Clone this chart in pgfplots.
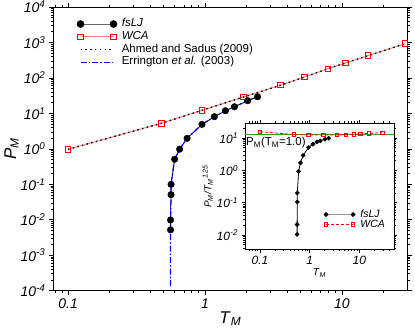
\documentclass[border=0pt]{standalone}
\usepackage{fontspec}
\setmainfont{Liberation Sans}
\usepackage{pgfplots}
\pgfplotsset{compat=1.18}

\begin{document}
\begin{tikzpicture}
\useasboundingbox (-53.3bp,-39.3bp) rectangle (361.7bp,290.7bp);
\begin{axis}[
  at={(0,0)}, anchor=south west,
  scale only axis, width=354bp, height=283.7bp,
  xmode=log, ymode=log,
  xmin=0.078, xmax=30, ymin=1e-4, ymax=1e4,
  xtick={0.1,1,10}, xticklabels={0.1,1,10},
  minor xtick={0.08,0.09,0.2,0.3,0.4,0.5,0.6,0.7,0.8,0.9,2,3,4,5,6,7,8,9,20},
  ytick={1e-4,1e-3,1e-2,1e-1,1,10,100,1000,10000},
  yticklabels={10\textsuperscript{-4},10\textsuperscript{-3},10\textsuperscript{-2},10\textsuperscript{-1},10\textsuperscript{0},10\textsuperscript{1},10\textsuperscript{2},10\textsuperscript{3},10\textsuperscript{4}},
  minor ytick={2e-4,3e-4,4e-4,5e-4,6e-4,7e-4,8e-4,9e-4,
    2e-3,3e-3,4e-3,5e-3,6e-3,7e-3,8e-3,9e-3,
    2e-2,3e-2,4e-2,5e-2,6e-2,7e-2,8e-2,9e-2,
    0.2,0.3,0.4,0.5,0.6,0.7,0.8,0.9,
    2,3,4,5,6,7,8,9,
    20,30,40,50,60,70,80,90,
    200,300,400,500,600,700,800,900,
    2000,3000,4000,5000,6000,7000,8000,9000},
  tick label style={font=\fontsize{14bp}{16bp}\selectfont\itshape},
  tick align=outside,
  major tick length=4.5bp, minor tick length=2.5bp,
  every tick/.style={black, line width=0.6bp},
  axis line style={line width=0.8bp},
  xlabel={\textit{T}\textsubscript{\textit{M}}},
  ylabel={\textit{P}\textsubscript{\textit{M}}},
  xlabel shift=-4bp, ylabel shift=-5bp,
  label style={font=\fontsize{17bp}{19bp}\selectfont},
  legend image code/.code={\draw[#1] plot coordinates {(0bp,0bp) (33bp,0bp)};},
  legend style={at={(0.067,0.963)}, anchor=north west, draw=none, fill=none,
    inner sep=0pt, row sep=0pt, font=\fontsize{11.5bp}{13bp}\selectfont,
    nodes={inner sep=1bp, text height=8.2bp, text depth=2.5bp},
    /tikz/every odd column/.append style={column sep=4bp}},
  legend cell align=left,
]
\addlegendimage{black!60, line width=1bp, mark=*, mark size=3.3bp, mark options={fill=black,draw=black}}
\addlegendentry{\textit{fsLJ}}
\addlegendimage{red!50, line width=1bp, mark=square, mark size=2.7bp, mark options={draw=red,fill=white,line width=1bp}}
\addlegendentry{\textit{WCA}}
\addlegendimage{black, line width=1.4bp, dash pattern=on 1.4bp off 3.4bp}
\addlegendentry{Ahmed and Sadus (2009)}
\addlegendimage{blue, line width=1.2bp, dash pattern=on 6bp off 2bp on 1.5bp off 2bp}
\addlegendentry{Errington \textit{et al.} (2003)}

% WCA line
\addplot[red!50, line width=1bp, forget plot] coordinates {
(0.1,0.97) (0.48,5.25) (0.95,12.2) (1.91,29) (3.55,62) (5.33,106) (7.9,182) (10.6,264) (15.5,424) (29,923)};
% Ahmed and Sadus (2009)
\addplot[black, line width=1.4bp, dash pattern=on 1.4bp off 3.4bp, forget plot] coordinates {
(0.1,0.97) (0.48,5.25) (0.95,12.2) (1.91,29) (3.55,62) (5.33,106) (7.9,182) (10.6,264) (15.5,424) (29,923)};
% WCA markers
\addplot[only marks, mark=square, mark size=2.7bp, mark options={draw=red,fill=white,line width=1bp}, forget plot] coordinates {
(0.1,0.97) (0.48,5.25) (0.95,12.2) (1.91,29) (3.55,62) (5.33,106) (7.9,182) (10.6,264) (15.5,424) (29,923)};
% fsLJ line
\addplot[black, line width=0.8bp, forget plot] coordinates {
(0.56,0.0052) (0.56,0.0099) (0.565,0.051) (0.565,0.100) (0.60,0.51) (0.653,0.98) (0.74,1.98) (0.95,4.9) (1.17,8.07) (1.41,11.9) (1.64,15.4) (2.05,22.8) (2.42,29.5)};
% Errington et al. (2003)
\addplot[blue, line width=1.2bp, dash pattern=on 6bp off 2bp on 1.5bp off 2bp, forget plot] coordinates {
(0.56,1.35e-4) (0.56,0.0052) (0.56,0.0099) (0.565,0.051) (0.565,0.100) (0.60,0.51) (0.653,0.98) (0.74,1.98) (0.95,4.9) (1.17,8.07) (1.41,11.9) (1.64,15.4) (2.05,22.8) (2.42,29.5)};
% fsLJ markers
\addplot[only marks, mark=*, mark size=3.3bp, mark options={fill=black,draw=black}, forget plot] coordinates {
(0.56,0.0052) (0.56,0.0099) (0.565,0.051) (0.565,0.100) (0.60,0.51) (0.653,0.98) (0.74,1.98) (0.95,4.9) (1.17,8.07) (1.41,11.9) (1.64,15.4) (2.05,22.8) (2.42,29.5)};
\end{axis}

% inset
\begin{axis}[
  at={(191.7bp,41.4bp)}, anchor=south west,
  scale only axis, width=149bp, height=126bp,
  axis background/.style={fill=white},
  xmode=log, ymode=log,
  xmin=0.05, xmax=50, ymin=3.6e-3, ymax=28.5,
  xtick={0.1,1,10}, xticklabels={0.1,1,10},
  minor xtick={0.06,0.07,0.08,0.09,0.2,0.3,0.4,0.5,0.6,0.7,0.8,0.9,2,3,4,5,6,7,8,9,20,30,40},
  ytick={1e-2,1e-1,1,10},
  yticklabels={10\textsuperscript{-2},10\textsuperscript{-1},10\textsuperscript{0},10\textsuperscript{1}},
  minor ytick={4e-3,5e-3,6e-3,7e-3,8e-3,9e-3,
    2e-2,3e-2,4e-2,5e-2,6e-2,7e-2,8e-2,9e-2,
    0.2,0.3,0.4,0.5,0.6,0.7,0.8,0.9,
    2,3,4,5,6,7,8,9,20},
  tick label style={font=\fontsize{12bp}{14bp}\selectfont\itshape},
  tick align=outside,
  major tick length=3.5bp, minor tick length=2bp,
  every tick/.style={black, line width=0.5bp},
  axis line style={line width=0.7bp},
  xlabel={\textit{T}\textsubscript{\textit{M}}},
  ylabel={\textit{P}\textsubscript{\textit{M}}\textit{/T}\textsubscript{\textit{M}}\textsuperscript{\textit{1.25}}},
  xlabel shift=-3bp, ylabel shift=-3bp,
  label style={font=\fontsize{10bp}{12bp}\selectfont},
  legend image code/.code={\draw[#1] plot coordinates {(0bp,0bp) (27bp,0bp)};},
  legend style={at={(0.53,0.317)}, anchor=north west, draw=none, fill=none,
    inner sep=0pt, row sep=0pt, font=\fontsize{10.5bp}{12bp}\selectfont,
    nodes={inner sep=0.5bp, text height=7bp, text depth=2bp},
    /tikz/every odd column/.append style={column sep=5bp}},
  legend cell align=left,
]
\addlegendimage{black!40, line width=1bp, mark=*, mark size=1.9bp, mark options={fill=black,draw=black}}
\addlegendentry{\textit{fsLJ}}
\addlegendimage{red, line width=0.8bp, dash pattern=on 3bp off 2bp, mark=square, mark size=1.7bp, mark options={solid,draw=red,fill=white,line width=0.8bp}}
\addlegendentry{\textit{WCA}}

\addplot[color={rgb,255:red,40;green,160;blue,40}, line width=1.2bp, forget plot] coordinates {(0.05,12.5) (50,12.5)};
\addplot[red, line width=0.8bp, dash pattern=on 3bp off 2bp, mark=square, mark size=1.7bp, mark options={solid,draw=red,fill=white,line width=0.8bp}, forget plot] coordinates {
(0.1,15.7) (0.48,12.8) (0.95,12.4) (1.91,12.4) (3.55,12.4) (5.33,12.7) (7.9,13.0) (10.6,13.3) (15.5,14.0) (29,14.6)};
\addplot[black, line width=0.8bp, mark=*, mark size=1.9bp, mark options={fill=black,draw=black}, forget plot] coordinates {
(0.56,0.0104) (0.56,0.021) (0.565,0.105) (0.565,0.20) (0.60,0.92) (0.653,1.7) (0.74,2.9) (0.95,5.1) (1.17,6.5) (1.41,7.6) (1.64,8.2) (2.05,9.2) (2.42,9.9)};
\node[anchor=north west, inner sep=1bp, font=\fontsize{11.5bp}{13bp}\selectfont] at (axis cs:0.05,11.5) {P\textsubscript{M}(T\textsubscript{M}=1.0)};
\end{axis}
\end{tikzpicture}
\end{document}
